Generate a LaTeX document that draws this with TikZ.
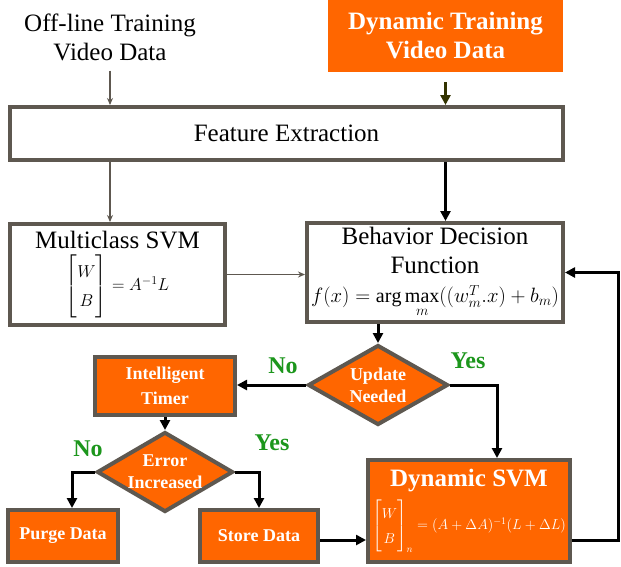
\documentclass[tikz,border=0pt]{standalone}
\usepackage{amsmath}
\usepackage{fontspec}
\setmainfont{Liberation Serif}
\usetikzlibrary{arrows.meta,shapes.geometric}
\definecolor{edgegray}{RGB}{94,88,80}
\definecolor{svmorange}{RGB}{255,102,0}
\definecolor{answergreen}{RGB}{28,150,28}
\definecolor{olivearrow}{RGB}{51,51,0}
\def\bigtext{\fontsize{25}{29}\selectfont}
\def\smalltext{\fontsize{18}{22}\selectfont}

\begin{document}
\begin{tikzpicture}[x=1pt, y=-1pt,
	plain/.style={align=center, font=\bigtext, inner sep=0pt},
	box/.style={draw=edgegray, line width=4pt, fill=white, align=center, font=\bigtext, inner sep=0pt},
	orangebox/.style={box, fill=svmorange, text=white, font=\bigtext\bfseries},
	smallorange/.style={orangebox, font=\smalltext\bfseries},
	decision/.style={diamond, draw=edgegray, line width=4pt, fill=svmorange, inner sep=0pt},
	decisiontext/.style={align=center, text=white, font=\smalltext\bfseries, inner sep=0pt},
	thinarrow/.style={draw=edgegray, line width=1.3pt, -{Stealth[length=7pt,width=6pt]}},
	thickarrow/.style={line width=3pt, -{Triangle[length=10pt,width=10pt]}},
	answer/.style={text=answergreen, font=\fontsize{24}{28}\selectfont\bfseries, inner sep=0pt}]
			%%%%% START %%%%%
			\useasboundingbox[fill=white] (0,0) rectangle (621,566);
			
			% inputs
			\node[plain] (offline) at (110,37) {Off-line Training\\Video Data};
			\node[orangebox, draw=none, minimum width=235pt, minimum height=72pt] (dyntrain) at (445.5,36) {Dynamic Training\\Video Data};
			
			\node[box, minimum width=553pt, minimum height=53pt] (feature) at (286.5,133.5) {Feature Extraction};
			
			\node[box, minimum width=215pt, minimum height=101pt] (multi) at (117.5,274.5) {Multiclass SVM\\[5pt]{\fontsize{18}{22}\selectfont\renewcommand\arraystretch{1.3}$\begin{bmatrix}W\\ B\end{bmatrix}=A^{-1}L$}};
			\node[box, minimum width=256pt, minimum height=99pt] (behavior) at (435,272.5) {Behavior Decision\\Function\\{\fontsize{20}{24}\selectfont$f(x)=\arg\max\limits_m((w_m^T.x)+b_m)$}};
			
			% decisions
			\node[decision, minimum width=140pt, minimum height=80pt, label={[decisiontext]center:Update\\Needed}] (update) at (378,385) {};
			\node[smallorange, minimum width=140pt, minimum height=58pt] (timer) at (165,386) {Intelligent\\[3pt]Timer};
			\node[decision, minimum width=136pt, minimum height=80pt, label={[decisiontext]center:Error\\Increased}] (error) at (165,472) {};
			
			\node[smallorange, minimum width=110pt, minimum height=52pt] (purge) at (63,536) {Purge Data};
			\node[smallorange, minimum width=118pt, minimum height=52pt] (store) at (259,536) {Store Data};
			\node[orangebox, minimum width=202pt, minimum height=102pt] (dynsvm) at (469,511) {Dynamic SVM\\[7pt]{\fontsize{14.5}{18}\selectfont\mdseries\renewcommand\arraystretch{1.35}$\begin{bmatrix}W\\ B\end{bmatrix}_n=(A+\Delta A)^{-1}(L+\Delta L)$}};
			\coordinate (loopright) at (618,0);
			
			% answers
			\node[answer] (noupdate) at (283,366) {No};
			\node[answer] (yesupdate) at (468,361) {Yes};
			\node[answer] (noerror) at (88,449) {No};
			\node[answer] (yeserror) at (272,443) {Yes};
			
			% connectors
			\draw[thinarrow] ([yshift=-10pt]offline.south) -- (offline.south |- feature.north);
			\draw[thickarrow, draw=olivearrow] ([yshift=-8pt]dyntrain.south) -- (dyntrain.south |- feature.north);
			\draw[thinarrow] (offline.south |- feature.south) -- (offline.south |- multi.north);
			\draw[thickarrow] (dyntrain.south |- feature.south) -- (dyntrain.south |- behavior.north);
			\draw[thinarrow] (multi.east) -- (multi.east -| behavior.west);
			\draw[thickarrow] (update.north |- behavior.south) -- (update.north);
			\draw[thickarrow] (update.west) -- (update.west -| timer.east);
			\draw[thickarrow] (update.east) -| ([xshift=28pt]dynsvm.north);
			\draw[thickarrow] (timer.south) -- (error.north);
			\draw[thickarrow] (error.west) -| ([xshift=9pt]purge.north);
			\draw[thickarrow] (error.east) -| (store.north);
			\draw[thickarrow] ([yshift=-4pt]store.east) -- ([yshift=-4pt]store.east -| dynsvm.west);
			\draw[thickarrow] ([yshift=-29pt]dynsvm.east) -- ([yshift=-29pt]dynsvm.east -| loopright) |- (behavior.east);
			%%%%% END %%%%%
\end{tikzpicture}
\end{document}
